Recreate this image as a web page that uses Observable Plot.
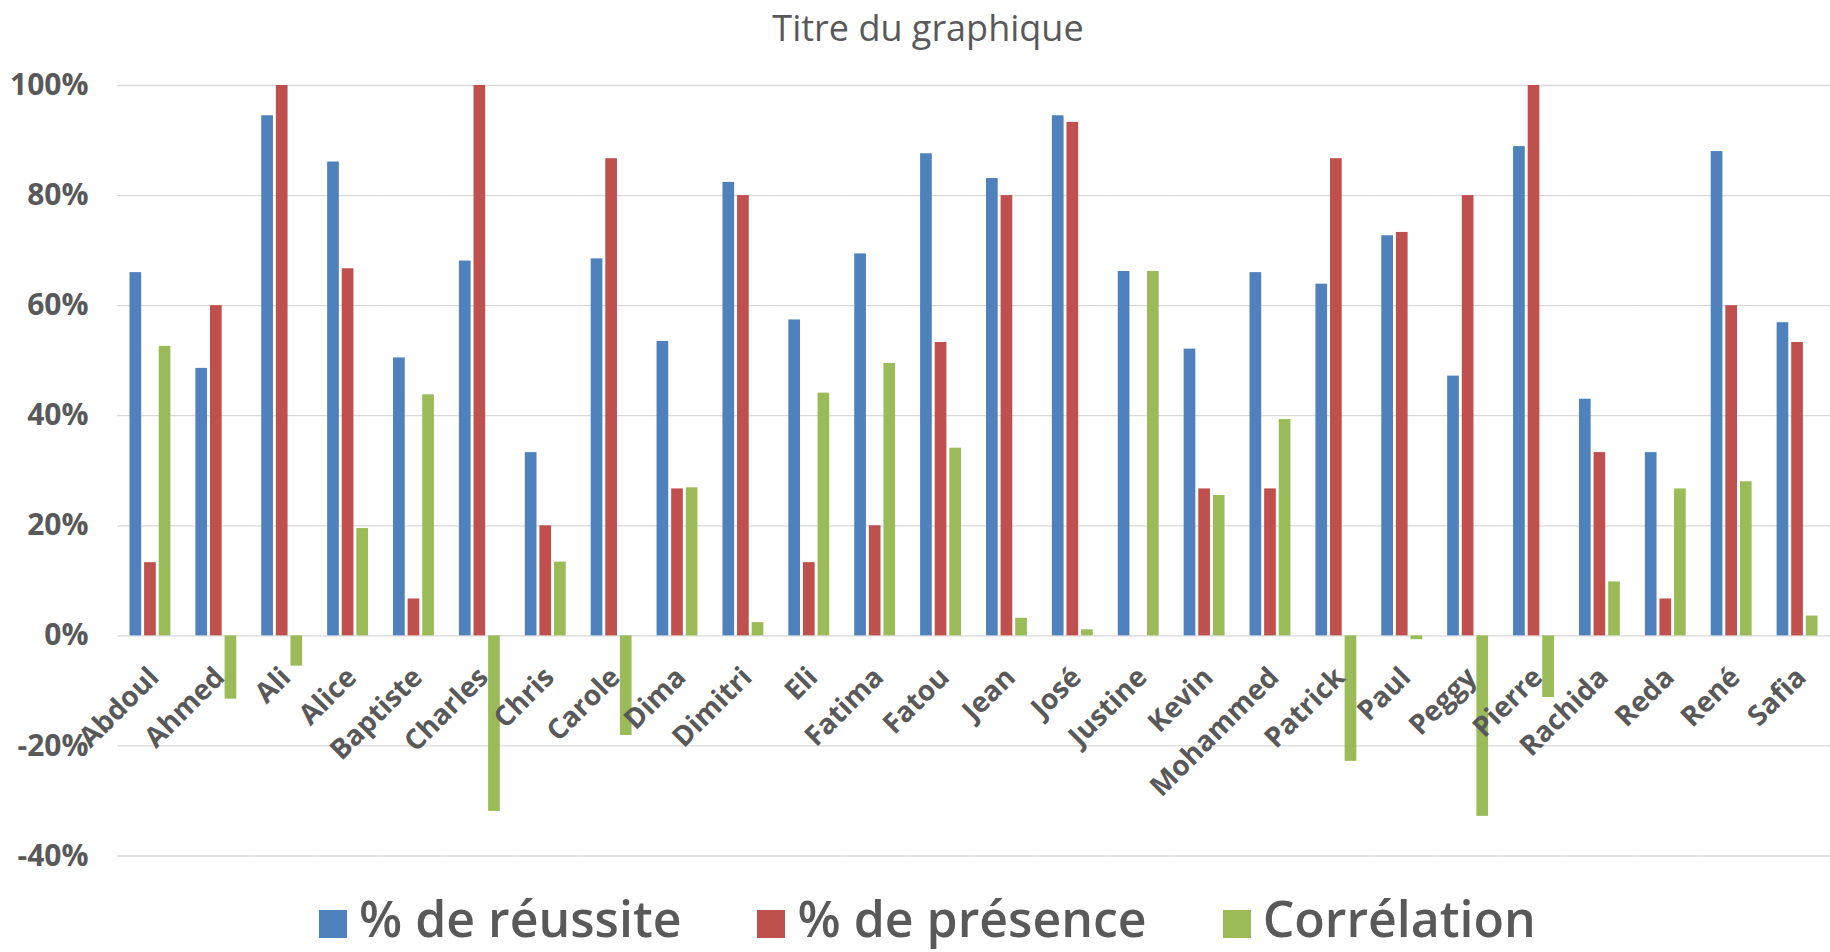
<!DOCTYPE html>
<html>
<head>
<meta charset="utf-8">
<script src="https://cdn.jsdelivr.net/npm/d3@7"></script>
<script src="https://cdn.jsdelivr.net/npm/@observablehq/plot@0.6"></script>
<style>
  html, body { margin: 0; padding: 0; background: #fff; }
  body { position: relative; width: 1830px; height: 952px; overflow: hidden; font-family: "Open Sans", sans-serif; color: #595959; }
  #title { height: 62px; line-height: 56px; font-size: 36px; text-align: center; padding-left: 26px; box-sizing: border-box; }
  #legend { position: absolute; left: 0; top: 889px; height: 58px; display: flex; align-items: flex-start; padding-left: 319px; box-sizing: border-box; }
  .item { display: flex; align-items: flex-start; margin-right: 76px; }
  .sw { width: 28px; height: 28px; margin-top: 21px; margin-right: 12px; }
  .lab { font-size: 50px; font-weight: 600; line-height: 58px; white-space: nowrap; }
</style>
</head>
<body>
<div id="title">Titre du graphique</div>
<div id="chart"></div>
<div id="legend"></div>
<script>
const names = ["Abdoul","Ahmed","Ali","Alice","Baptiste","Charles","Chris","Carole","Dima","Dimitri","Eli","Fatima","Fatou","Jean","José","Justine","Kevin","Mohammed","Patrick","Paul","Peggy","Pierre","Rachida","Reda","René","Safia"];
const reussite = [0.66, 0.486, 0.945, 0.861, 0.505, 0.681, 0.333, 0.685, 0.535, 0.824, 0.574, 0.694, 0.876, 0.831, 0.945, 0.662, 0.521, 0.66, 0.639, 0.727, 0.472, 0.889, 0.43, 0.333, 0.88, 0.569];
const presence = [0.133, 0.6, 1, 0.667, 0.067, 1, 0.2, 0.867, 0.267, 0.8, 0.133, 0.2, 0.533, 0.8, 0.933, 0, 0.267, 0.267, 0.867, 0.733, 0.8, 1, 0.333, 0.067, 0.6, 0.533];
const correlation = [0.526, -0.115, -0.055, 0.195, 0.438, -0.319, 0.134, -0.181, 0.269, 0.024, 0.441, 0.495, 0.341, 0.032, 0.011, 0.662, 0.255, 0.393, -0.228, -0.007, -0.328, -0.112, 0.098, 0.267, 0.28, 0.036];
const seriesNames = ["% de réussite", "% de présence", "Corrélation"];
const seriesColors = ["#4F81BD", "#C0504D", "#9BBB59"];
const yTicks = [-0.4, -0.2, 0, 0.2, 0.4, 0.6, 0.8, 1.0];

const seriesValues = [reussite, presence, correlation];
const data = [];
names.forEach((n, i) => {
  seriesNames.forEach((s, j) => data.push({name: n, series: s, value: seriesValues[j][i]}));
});

const textColor = "#595959";
const chart = Plot.plot({
  width: 1830,
  height: 890,
  marginLeft: 117,
  marginRight: 0,
  marginTop: 23,
  marginBottom: 96.5,
  style: {fontFamily: "'Open Sans', sans-serif", background: "transparent"},
  fx: {domain: names, padding: 0, round: false, axis: null},
  x: {domain: seriesNames, paddingInner: 0.2, paddingOuter: 0.855, round: false, axis: null},
  y: {domain: [-0.4, 1.0]},
  color: {domain: seriesNames, range: seriesColors},
  marks: [
    Plot.ruleY(yTicks, {stroke: "#D9D9D9", strokeWidth: 1.3}),
    Plot.axisY({ticks: yTicks, tickFormat: d => Math.round(d * 100) + "%", tickSize: 0, tickPadding: 29,
      fontSize: 30, fontWeight: "bold", fill: textColor, label: null}),
    Plot.barY(data, {fx: "name", x: "series", y: "value", fill: "series"}),
    Plot.text(names, {fx: d => d, y: () => 0, text: d => d, textAnchor: "end", lineAnchor: "top",
      rotate: -45, dx: -4, dy: 29, fontSize: 28, fontWeight: "bold", fill: textColor})
  ]
});
document.getElementById("chart").appendChild(chart);

const legend = document.getElementById("legend");
seriesNames.forEach((s, i) => {
  const it = document.createElement("div");
  it.className = "item";
  const sw = document.createElement("div");
  sw.className = "sw";
  sw.style.background = seriesColors[i];
  const lab = document.createElement("span");
  lab.className = "lab";
  lab.textContent = s;
  it.appendChild(sw); it.appendChild(lab);
  legend.appendChild(it);
});
</script>
</body>
</html>
